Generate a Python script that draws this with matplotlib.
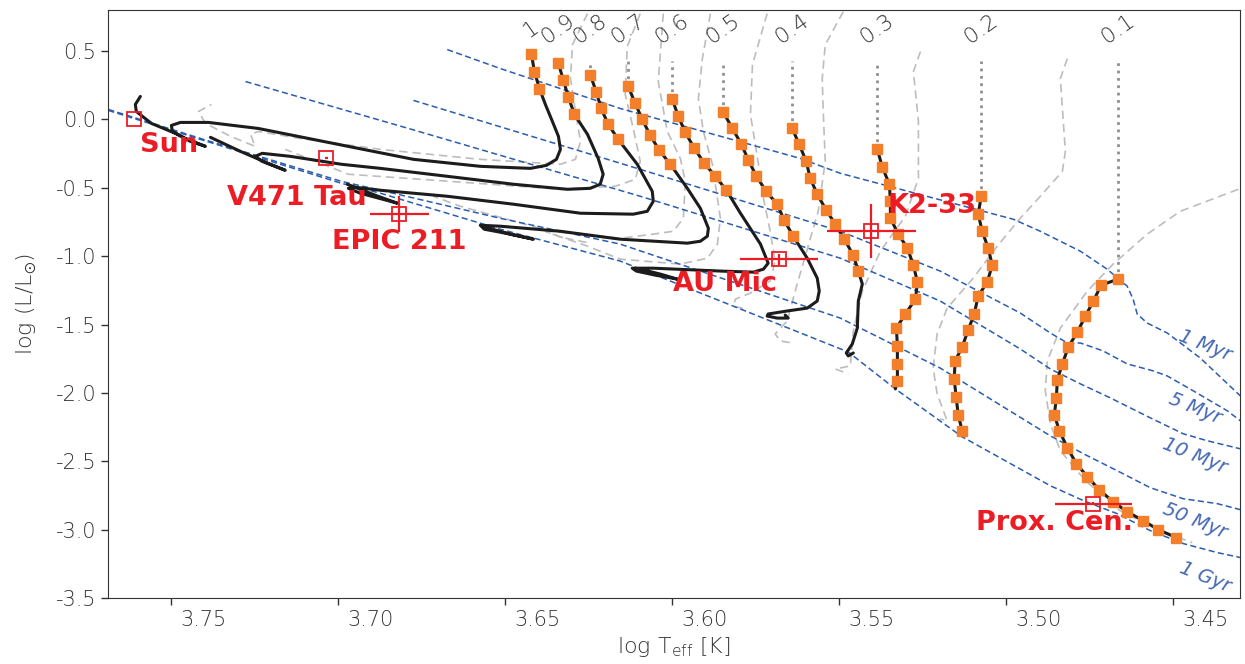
import matplotlib
matplotlib.use("Agg")
import matplotlib.pyplot as plt
import matplotlib.transforms as mtransforms

# ---------------- data (log Teff, log L/Lsun) ----------------
masses = ['1', '0.9', '0.8', '0.7', '0.6', '0.5', '0.4', '0.3', '0.2', '0.1']

t10_T = [3.6422, 3.6413, 3.6398, 3.6380, 3.6359, 3.6341, 3.6335, 3.6347, 3.6377, 3.6425, 3.6575, 3.6775, 3.6940,
         3.7090, 3.7240, 3.7389, 3.7473, 3.7500, 3.7497, 3.7458, 3.7398, 3.7443, 3.7488, 3.7560, 3.7605, 3.7608, 3.7593]
t10_L = [0.482, 0.350, 0.226, 0.109, -0.015, -0.124, -0.219, -0.292, -0.336, -0.358, -0.343, -0.292, -0.212,
         -0.139, -0.066, -0.022, -0.022, -0.044, -0.088, -0.139, -0.197, -0.161, -0.102, -0.029, 0.058, 0.109, 0.168]
t09_T = [3.6341, 3.6326, 3.6311, 3.6293, 3.6254, 3.6222, 3.6207, 3.6216, 3.6246, 3.6314, 3.6476, 3.6674, 3.6874,
         3.6991, 3.7144, 3.7228, 3.7249, 3.7228, 3.7159, 3.7204, 3.7293, 3.7383]
t09_L = [0.409, 0.285, 0.161, 0.036, -0.109, -0.285, -0.401, -0.474, -0.504, -0.511, -0.474, -0.416, -0.358,
         -0.328, -0.270, -0.248, -0.270, -0.307, -0.372, -0.328, -0.234, -0.131]
t08_T = [3.6246, 3.6228, 3.6213, 3.6192, 3.6162, 3.6105, 3.6060, 3.6057, 3.6075, 3.6117, 3.6275, 3.6476, 3.6674,
         3.6874, 3.6949, 3.6970, 3.6934, 3.6823, 3.6889, 3.6973]
t08_L = [0.328, 0.204, 0.080, -0.036, -0.146, -0.328, -0.526, -0.599, -0.672, -0.693, -0.686, -0.620, -0.562,
         -0.518, -0.496, -0.504, -0.540, -0.613, -0.555, -0.474]
t07_T = [3.6132, 3.6111, 3.6090, 3.6066, 3.6039, 3.6006, 3.5955, 3.5916, 3.5892, 3.5895, 3.5916, 3.5955, 3.6156,
         3.6335, 3.6515, 3.6575, 3.6563, 3.6500, 3.6416, 3.6485, 3.6560]
t07_L = [0.241, 0.117, 0.0, -0.117, -0.226, -0.328, -0.504, -0.650, -0.796, -0.854, -0.891, -0.905, -0.876,
         -0.818, -0.781, -0.774, -0.803, -0.832, -0.876, -0.839, -0.788]
t06_T = [3.6000, 3.5982, 3.5961, 3.5934, 3.5904, 3.5871, 3.5838, 3.5796, 3.5736, 3.5713, 3.5727, 3.5757, 3.5856,
         3.6057, 3.6120, 3.6108, 3.6051, 3.5985, 3.6036, 3.6096]
t06_L = [0.146, 0.022, -0.095, -0.212, -0.321, -0.416, -0.518, -0.686, -0.912, -1.051, -1.095, -1.117, -1.109,
         -1.088, -1.088, -1.109, -1.139, -1.168, -1.131, -1.095]
t05_T = [3.5847, 3.5820, 3.5793, 3.5772, 3.5748, 3.5719, 3.5686, 3.5665, 3.5638, 3.5596, 3.5566, 3.5560, 3.5566,
         3.5596, 3.5656, 3.5713, 3.5716, 3.5686, 3.5653, 3.5662]
t05_L = [0.051, -0.066, -0.182, -0.299, -0.416, -0.526, -0.620, -0.737, -0.854, -1.015, -1.161, -1.255, -1.328,
         -1.380, -1.401, -1.423, -1.438, -1.453, -1.453, -1.431]
t04_T = [3.5641, 3.5620, 3.5599, 3.5587, 3.5566, 3.5539, 3.5512, 3.5485, 3.5458, 3.5443, 3.5431, 3.5443, 3.5446,
         3.5461, 3.5479, 3.5473, 3.5458]
t04_L = [-0.066, -0.182, -0.307, -0.431, -0.547, -0.664, -0.766, -0.876, -0.993, -1.109, -1.204, -1.328, -1.526,
         -1.642, -1.708, -1.730, -1.708]
t03_T = [3.5386, 3.5371, 3.5350, 3.5347, 3.5347, 3.5323, 3.5296, 3.5278, 3.5266, 3.5272, 3.5302, 3.5329, 3.5326,
         3.5326, 3.5326, 3.5332]
t03_L = [-0.219, -0.350, -0.474, -0.599, -0.723, -0.839, -0.942, -1.066, -1.190, -1.314, -1.423, -1.526, -1.657,
         -1.788, -1.912, -1.971]
t02_T = [3.5075, 3.5084, 3.5072, 3.5054, 3.5042, 3.5057, 3.5084, 3.5096, 3.5114, 3.5132, 3.5153, 3.5156, 3.5150,
         3.5144, 3.5132, 3.5132]
t02_L = [-0.562, -0.693, -0.818, -0.942, -1.066, -1.190, -1.292, -1.423, -1.540, -1.664, -1.766, -1.898, -2.029,
         -2.161, -2.277, -2.314]
t01_T = [3.4665, 3.4716, 3.4739, 3.4763, 3.4787, 3.4814, 3.4832, 3.4847, 3.4850, 3.4856, 3.4841, 3.4817, 3.4790,
         3.4757, 3.4722, 3.4680, 3.4638, 3.4590, 3.4545, 3.4491]
t01_L = [-1.168, -1.212, -1.328, -1.438, -1.555, -1.664, -1.788, -1.905, -2.036, -2.161, -2.277, -2.401, -2.518,
         -2.613, -2.708, -2.796, -2.869, -2.934, -3.000, -3.058]
# number of leading points of each track that carry a square marker
n_squares = [3, 4, 5, 6, 7, 9, 10, 15, 15, 20]

# second model grid (grey dashed)
g1_T = [3.6254, 3.6299, 3.6305, 3.6290, 3.6275, 3.6290, 3.6335, 3.6575, 3.6874, 3.7114, 3.7240, 3.7263, 3.7249,
        3.7323, 3.7398, 3.7419, 3.7380]
g1_L = [0.774, 0.547, 0.299, 0.058, -0.161, -0.292, -0.328, -0.292, -0.219, -0.139, -0.088, -0.109, -0.197,
        -0.124, -0.029, 0.058, 0.109]
g2_T = [3.6096, 3.6135, 3.6141, 3.6117, 3.6096, 3.6111, 3.6171, 3.6335, 3.6665, 3.6970, 3.7159]
g2_L = [0.774, 0.533, 0.182, -0.066, -0.307, -0.438, -0.489, -0.511, -0.453, -0.401, -0.219]
g3_T = [3.6027, 3.6042, 3.6015, 3.5976, 3.5961, 3.5967, 3.5997, 3.6057, 3.6156, 3.6365, 3.6635, 3.6716]
g3_L = [0.774, 0.277, -0.088, -0.285, -0.453, -0.723, -0.818, -0.839, -0.869, -0.818, -0.635, -0.562]
g4_T = [3.5886, 3.5910, 3.5922, 3.5907, 3.5880, 3.5865, 3.5856, 3.5865, 3.5895, 3.5976, 3.6156, 3.6254, 3.6365,
        3.6380, 3.6335, 3.6246]
g4_L = [0.774, 0.445, 0.153, -0.088, -0.328, -0.577, -0.723, -0.912, -1.015, -1.058, -1.022, -0.927, -0.832,
        -0.818, -0.861, -0.905]
g5_T = [3.5716, 3.5760, 3.5766, 3.5742, 3.5727, 3.5707, 3.5692, 3.5707, 3.5766, 3.5811, 3.5817, 3.5781]
g5_L = [0.774, 0.401, 0.036, -0.328, -0.577, -0.818, -1.036, -1.182, -1.270, -1.314, -1.365, -1.387]
g6_T = [3.5488, 3.5542, 3.5551, 3.5548, 3.5542, 3.5563, 3.5602, 3.5632, 3.5656, 3.5692, 3.5677, 3.5641]
g6_L = [0.788, 0.547, 0.299, 0.058, -0.307, -0.672, -1.000, -1.255, -1.474, -1.569, -1.620, -1.635]
g7_T = [3.5257, 3.5278, 3.5263, 3.5263, 3.5302, 3.5377, 3.5431, 3.5458, 3.5467, 3.5512, 3.5473]
g7_L = [0.496, 0.350, -0.015, -0.431, -0.708, -0.964, -1.255, -1.547, -1.803, -1.825, -1.861]
g8_T = [3.4817, 3.4838, 3.4823, 3.4832, 3.4898, 3.4958, 3.5027, 3.5099, 3.5177, 3.5207, 3.5219, 3.5207, 3.5177,
        3.5198]
g8_L = [0.445, 0.299, -0.234, -0.380, -0.562, -0.723, -0.927, -1.161, -1.380, -1.569, -1.818, -2.007, -2.204,
        -2.190]
g9_T = [3.4305, 3.4479, 3.4578, 3.4680, 3.4757, 3.4838, 3.4877, 3.4883, 3.4868, 3.4838, 3.4763, 3.4659, 3.4539,
        3.4443]
g9_L = [-0.511, -0.672, -0.839, -1.058, -1.255, -1.526, -1.766, -1.985, -2.226, -2.423, -2.642, -2.861, -3.007,
        -3.095]

# isochrones (blue dashed)
iso_labels = ['1 Myr', '5 Myr', '10 Myr', '50 Myr', '1 Gyr']
iso1_T = [3.6674, 3.6515, 3.6156, 3.5617, 3.5497, 3.5317, 3.4979, 3.4898, 3.4778, 3.4698, 3.4638, 3.4620, 3.4608,
          3.4578, 3.4518, 3.4419, 3.4299]
iso1_L = [0.511, 0.372, 0.080, -0.285, -0.394, -0.511, -0.730, -0.818, -0.964, -1.095, -1.219, -1.314, -1.423,
          -1.489, -1.562, -1.745, -2.022]
iso5_T = [3.6775, 3.6096, 3.5497, 3.5198, 3.4958, 3.4868, 3.4817, 3.4778, 3.4710, 3.4638, 3.4560, 3.4518, 3.4440,
          3.4338, 3.4299]
iso5_L = [0.139, -0.365, -0.818, -1.109, -1.416, -1.562, -1.635, -1.635, -1.693, -1.788, -1.839, -1.876, -1.985,
          -2.131, -2.204]
iso10_T = [3.7278, 3.6790, 3.6096, 3.5497, 3.5198, 3.4958, 3.4868, 3.4778, 3.4689, 3.4569, 3.4470, 3.4398, 3.4299]
iso10_L = [0.277, -0.066, -0.562, -1.015, -1.328, -1.679, -1.825, -1.934, -2.036, -2.182, -2.299, -2.350, -2.409]
iso50_T = [3.7689, 3.7404, 3.6991, 3.6874, 3.6515, 3.6156, 3.5497, 3.5198, 3.4868, 3.4769, 3.4668, 3.4569, 3.4470,
           3.4368, 3.4299]
iso50_L = [0.073, -0.146, -0.453, -0.518, -0.723, -0.912, -1.453, -1.818, -2.314, -2.445, -2.569, -2.693, -2.774,
           -2.810, -2.854]
iso1g_T = [3.7689, 3.7404, 3.6991, 3.6874, 3.6515, 3.6156, 3.5473, 3.5332, 3.5132, 3.4868, 3.4769, 3.4668, 3.4569,
           3.4470, 3.4368, 3.4299]
iso1g_L = [0.066, -0.153, -0.467, -0.540, -0.803, -1.036, -1.701, -1.971, -2.321, -2.679, -2.788, -2.883, -3.007,
           -3.102, -3.168, -3.204]
iso_lab_T = [3.4404, 3.4434, 3.4434, 3.4434, 3.4404]
iso_lab_L = [-1.657, -2.117, -2.460, -2.934, -3.350]

# observed stars
star_names = ['Sun', 'V471 Tau', 'EPIC 211', 'AU Mic', 'K2-33', 'Prox. Cen.']
star_T = [3.7613, 3.7036, 3.6817, 3.5680, 3.5404, 3.4739]
star_L = [0.0, -0.285, -0.690, -1.022, -0.818, -2.810]
star_Terr = [0.0, 0.0005, 0.0087, 0.0117, 0.0133, 0.0115]
star_Lerr = [0.0, 0.005, 0.13, 0.04, 0.197, 0.01]
name_T = [3.7593, 3.7123, 3.6817, 3.5841, 3.5222, 3.4856]
name_L = [-0.190, -0.577, -0.898, -1.204, -0.635, -2.949]
name_ha = ['left', 'center', 'center', 'center', 'center', 'center']

top_of_grid = 0.43

# ---------------- plot ----------------
plt.rcParams['font.family'] = ['DejaVu Sans']
plt.rcParams['mathtext.default'] = 'regular'
fig = plt.figure(figsize=(12.45, 6.64), dpi=100)
ax = fig.add_axes([0.0867, 0.0994, 0.9093, 0.8855])

red = '#ec1c24'
blue = '#2a5db0'
orange = '#f47f2b'

grey_tracks = [(g1_T, g1_L), (g2_T, g2_L), (g3_T, g3_L), (g4_T, g4_L), (g5_T, g5_L),
               (g6_T, g6_L), (g7_T, g7_L), (g8_T, g8_L), (g9_T, g9_L)]
for gT, gL in grey_tracks:
    ax.plot(gT, gL, color='#bdbdbd', lw=1.2, dashes=(5, 3), zorder=1)

isos = [(iso1_T, iso1_L), (iso5_T, iso5_L), (iso10_T, iso10_L), (iso50_T, iso50_L), (iso1g_T, iso1g_L)]
for (iT, iL), lab, lT, lL in zip(isos, iso_labels, iso_lab_T, iso_lab_L):
    ax.plot(iT, iL, color=blue, lw=1.1, dashes=(4, 2.2), zorder=2)
    ax.text(lT, lL, lab, color='#4468b3', fontsize=14, style='italic', fontweight='light',
            rotation=-22, ha='center', va='center', zorder=2)

tracks = [(t10_T, t10_L), (t09_T, t09_L), (t08_T, t08_L), (t07_T, t07_L), (t06_T, t06_L),
          (t05_T, t05_L), (t04_T, t04_L), (t03_T, t03_L), (t02_T, t02_L), (t01_T, t01_L)]
for (tT, tL), m, nsq in zip(tracks, masses, n_squares):
    if tL[0] < top_of_grid:
        ax.plot([tT[0], tT[0]], [tL[0], top_of_grid], color='#8f8f8f', lw=2, ls=':', zorder=2)
    ax.plot(tT, tL, color='#1c1c1c', lw=2.2, zorder=3, solid_capstyle='round')
    ax.plot(tT[:nsq], tL[:nsq], ls='none', marker='s', ms=6.5, color=orange, mec=orange, zorder=4)
    ax.text(tT[0], 0.66, m, rotation=35, fontsize=16, color='#333333', fontweight='light',
            ha='center', va='center')

for i, nm in enumerate(star_names):
    ax.errorbar(star_T[i], star_L[i], xerr=star_Terr[i], yerr=star_Lerr[i], fmt='s', ms=10,
                mfc='none', mec=red, mew=1.3, ecolor=red, elinewidth=1.6, capsize=0, zorder=6)
    ax.text(name_T[i], name_L[i], nm, color=red, fontsize=19.5, fontweight='bold',
            ha=name_ha[i], va='center', zorder=7)

ax.set_xlim(3.769, 3.43)
ax.set_ylim(-3.5, 0.8)
ax.set_xticks([3.75, 3.70, 3.65, 3.60, 3.55, 3.50, 3.45])
ax.set_yticks([0.5, 0.0, -0.5, -1.0, -1.5, -2.0, -2.5, -3.0, -3.5])
ax.set_xticklabels(['3.75', '3.70', '3.65', '3.60', '3.55', '3.50', '3.45'])
ax.set_yticklabels(['0.5', '0.0', '-0.5', '-1.0', '-1.5', '-2.0', '-2.5', '-3.0', '-3.5'])
ax.tick_params(labelsize=15, length=5, width=1, colors='#333333', labelcolor='#333333')
# the x tick labels sit a little to the right of their ticks in the original
shift = mtransforms.ScaledTranslation(0.32, 0, fig.dpi_scale_trans)
for lab in ax.get_xticklabels():
    lab.set_transform(lab.get_transform() + shift)
for lab in ax.get_xticklabels() + ax.get_yticklabels():
    lab.set_fontweight('light')
for sp in ax.spines.values():
    sp.set_color('#333333')
ax.set_xlabel(r'log T$_{eff}$ [K]', fontsize=16, color='#333333', fontweight='light', labelpad=4)
ax.set_ylabel(r'log (L/L$_{\odot}$)', fontsize=16, color='#333333', fontweight='light', labelpad=12)

fig.savefig('out.png', dpi=100)
